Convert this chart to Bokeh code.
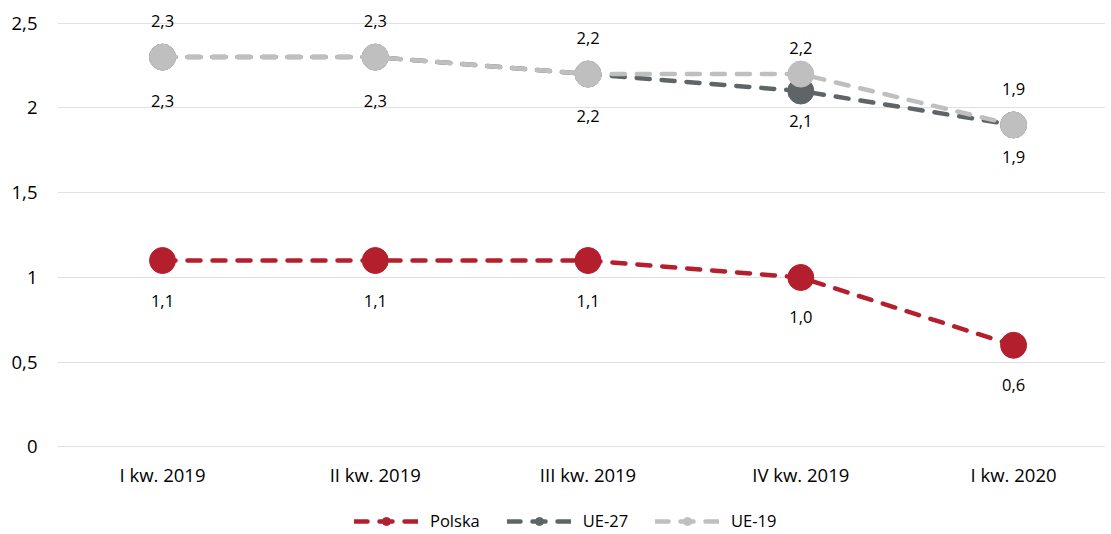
from bokeh.plotting import figure
from bokeh.layouts import column
from bokeh.models import ColumnDataSource, Legend, LegendItem, FixedTicker, CustomJSTickFormatter
from bokeh.core.properties import value
from bokeh.embed import file_html
from bokeh.resources import INLINE

categories = ["I kw. 2019", "II kw. 2019", "III kw. 2019", "IV kw. 2019", "I kw. 2020"]
polska = [1.1, 1.1, 1.1, 1.0, 0.6]
ue27 = [2.3, 2.3, 2.2, 2.1, 1.9]
ue19 = [2.3, 2.3, 2.2, 2.2, 1.9]
y_ticks = [0, 0.5, 1, 1.5, 2, 2.5]

# label placement (pixels, style only)
polska_off = [40, 40, 40, 40, 40]
ue27_off = [44, 44, 42, 30, 32]
ue19_off = [-36, -36, -36, -26, -36]

FONT = "Open Sans"
AXFS = "18.5px"
LBFS = "16.5px"

def fmt(v):
    return f"{v:.1f}".replace(".", ",")

p = figure(width=1105, height=508, x_range=(-0.4935, 4.432), y_range=(-0.003, 2.634),
           output_backend="svg", toolbar_location=None,
           min_border_left=57, min_border_right=0, min_border_top=0, min_border_bottom=61)
p.outline_line_color = None
p.xgrid.grid_line_color = None
p.ygrid.grid_line_color = "#e0e0e0"
p.ygrid.grid_line_width = 1

p.yaxis.ticker = FixedTicker(ticks=y_ticks)
p.yaxis.formatter = CustomJSTickFormatter(code="return String(tick).replace('.', ',');")
p.yaxis.axis_line_color = None
p.yaxis.major_tick_line_color = None
p.yaxis.minor_tick_line_color = None
p.yaxis.major_tick_out = 0
p.yaxis.major_label_standoff = 20
p.yaxis.major_label_text_font = FONT
p.yaxis.major_label_text_font_size = AXFS
p.yaxis.major_label_text_color = "#000000"

xs = list(range(len(categories)))
p.xaxis.ticker = FixedTicker(ticks=xs)
p.xaxis.formatter = CustomJSTickFormatter(args=dict(labels=categories),
                                          code="return labels[Math.round(tick)] || '';")
p.xaxis.axis_line_color = None
p.xaxis.major_tick_line_color = None
p.xaxis.minor_tick_line_color = None
p.xaxis.major_tick_out = 0
p.xaxis.major_label_standoff = 14
p.xaxis.major_label_text_font = FONT
p.xaxis.major_label_text_font_size = AXFS
p.xaxis.major_label_text_color = "#000000"

series = [
    ("Polska", polska, "#b41f2e", polska_off),
    ("UE-27", ue27, "#5f6567", ue27_off),
    ("UE-19", ue19, "#bfbfbf", ue19_off),
]

# legend figure (renderers there are out of its visible range; only the legend shows)
pl = figure(width=1105, height=26, x_range=(100, 101), y_range=(100, 101),
            output_backend="svg", toolbar_location=None,
            min_border_left=0, min_border_right=0, min_border_top=0, min_border_bottom=0)
pl.axis.visible = False
pl.grid.visible = False
pl.outline_line_color = None

items = []
for name, vals, color, off in series:
    src = ColumnDataSource(dict(x=xs, y=vals))
    p.line("x", "y", source=src, line_color=color, line_width=4.5,
           line_dash="13 12", line_cap="round")
    p.scatter("x", "y", source=src, size=26, fill_color=color, line_color=color)
    ln = pl.line("x", "y", source=src, line_color=color, line_width=4.5,
                 line_dash="13 12", line_cap="round")
    sc = pl.scatter("x", "y", source=src, size=26, fill_color=color, line_color=color)
    items.append(LegendItem(label=name, renderers=[ln, sc]))

for name, vals, color, off in series:
    src = ColumnDataSource(dict(x=xs, y=vals, lab=[fmt(v) for v in vals], off=off))
    p.text("x", "y", text="lab", source=src, text_align="center", text_baseline="middle",
           y_offset="off", text_font=value(FONT), text_font_size=LBFS, text_color="#000000")

legend = Legend(items=items, orientation="horizontal", location=(297, 2),
                glyph_width=64, glyph_height=20, label_standoff=12, spacing=27,
                padding=0, margin=0, label_text_font=FONT, label_text_font_size=LBFS,
                label_text_color="#000000", border_line_color=None,
                background_fill_alpha=0)
pl.add_layout(legend, "center")

layout = column(p, pl, spacing=0)
open("out.html", "w").write(file_html(layout, INLINE))
